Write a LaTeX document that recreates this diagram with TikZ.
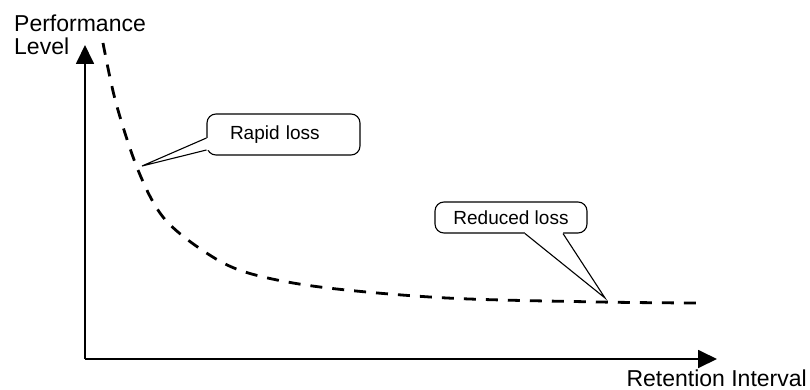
\documentclass[tikz,border=0pt]{standalone}
\usepackage{fontspec}
\setmainfont{Liberation Sans}
\usetikzlibrary{arrows.meta}

\tikzset{
  axisline/.style={line width=1.8pt, -{Triangle[length=19pt,width=18pt]}},
  axislabel/.style={inner sep=0pt, font=\fontsize{23}{23}\selectfont},
  decay/.style={line width=2.8pt, dash pattern=on 12pt off 10pt},
  callout/.style={draw, line width=1.1pt, rounded corners=9pt, inner sep=0pt,
                  font=\fontsize{19}{19}\selectfont},
  pointer/.style={line width=1.1pt, line join=miter},
}

\begin{document}
\begin{tikzpicture}[x=1pt, y=1pt]
  \useasboundingbox (0,0) rectangle (810,389);

  % axes
  \coordinate (O) at (85,30);
  \coordinate (ytop) at (85,344);
  \coordinate (xend) at (717,30);
  \draw[axisline] (O) -- (ytop);
  \draw[axisline] (O) -- (xend);

  \node[axislabel, anchor=base west] (perf) at (14,357) {Performance};
  \node[axislabel, anchor=base west] (level) at (14,334) {Level};
  \node[axislabel, anchor=base east] (retint) at (807,2.5) {Retention Interval};

  % forgetting curve
  \draw[decay] plot[smooth, tension=0.55] coordinates {
    (103,346) (116,286) (138,219) (163,172) (202,139) (245,117)
    (320,102) (447,91) (600,87) (697,86)};
  \coordinate (fast) at (142,223);
  \coordinate (slow) at (605,91);

  % callouts
  \node[callout, minimum width=153pt, minimum height=41pt, text width=107pt,
        inner xsep=23pt, align=left] (rapid) at (283.5,254.5) {Rapid loss};
  \node[callout, minimum width=152pt, minimum height=31pt] (reduced)
        at (511,171.5) {Reduced loss};

  % callout pointers
  \coordinate (r1) at ([yshift=-3.5pt]rapid.west);
  \coordinate (r2) at ([yshift=-15.5pt]rapid.west);
  \fill[white] (fast) -- (r1) -- ([xshift=3pt]r1) -- ([xshift=3pt]r2) -- (r2) -- cycle;
  \draw[pointer] (r1) -- (fast) -- (r2);

  \coordinate (d1) at ([xshift=14pt]reduced.south);
  \coordinate (d2) at ([xshift=52pt]reduced.south);
  \fill[white] (slow) -- (d1) -- ([yshift=3pt]d1) -- ([yshift=3pt]d2) -- (d2) -- cycle;
  \draw[pointer] (d1) -- (slow) -- (d2);
\end{tikzpicture}
\end{document}
